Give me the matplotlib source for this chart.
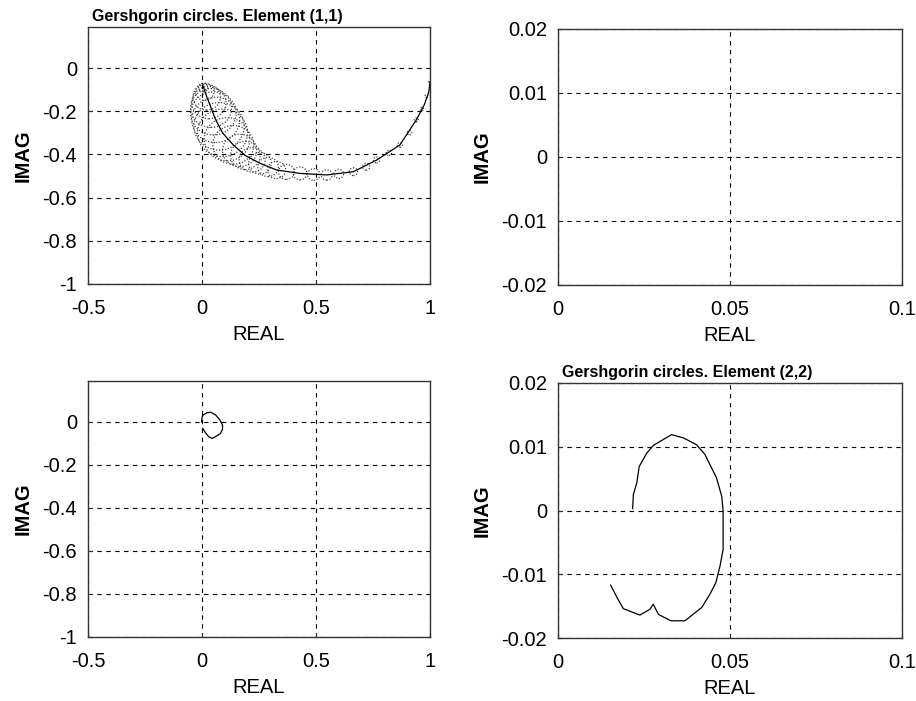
import numpy as np
import matplotlib.pyplot as plt
from matplotlib.patches import Circle

plt.rcParams['font.family'] = ['Liberation Sans', 'DejaVu Sans']

# element (1,1): diagonal term (solid line)
d11_re = [0.003, 0.02, 0.04, 0.057, 0.09, 0.137, 0.19, 0.254, 0.327, 0.43,
          0.547, 0.664, 0.766, 0.868, 0.94, 0.975, 0.995, 1.0]
d11_im = [-0.079, -0.13, -0.185, -0.233, -0.3, -0.356, -0.405, -0.441, -0.472, -0.488,
          -0.495, -0.48, -0.426, -0.356, -0.24, -0.17, -0.11, -0.063]

# Gershgorin circles for element (1,1): centres and radii
c11_re = [0.005, 0.012, 0.02, 0.03, 0.04, 0.05, 0.06, 0.075, 0.09, 0.11, 0.137,
          0.165, 0.19, 0.22, 0.254, 0.29, 0.327, 0.37, 0.43, 0.49, 0.547, 0.6,
          0.664, 0.72, 0.766, 0.82, 0.868, 0.91, 0.94, 0.965, 0.985, 1.0]
c11_im = [-0.09, -0.11, -0.135, -0.16, -0.185, -0.21, -0.24, -0.27, -0.3, -0.33, -0.356,
          -0.382, -0.405, -0.425, -0.441, -0.458, -0.472, -0.481, -0.488, -0.493, -0.495, -0.49,
          -0.48, -0.457, -0.426, -0.393, -0.356, -0.3, -0.24, -0.19, -0.13, -0.063]
r11 = [0.02, 0.04, 0.06, 0.075, 0.09, 0.1, 0.105, 0.11, 0.11, 0.1, 0.09,
       0.075, 0.065, 0.057, 0.05, 0.045, 0.04, 0.035, 0.03, 0.027, 0.024, 0.021,
       0.018, 0.016, 0.014, 0.012, 0.011, 0.01, 0.009, 0.008, 0.007, 0.006]

# element (2,1)
e21_re = [-0.002, 0.0, 0.003, 0.02, 0.038, 0.06, 0.078, 0.09, 0.09, 0.08, 0.06,
          0.045, 0.03, 0.015, 0.003]
e21_im = [0.0, 0.02, 0.03, 0.042, 0.045, 0.032, 0.01, -0.015, -0.035, -0.055, -0.068,
          -0.077, -0.07, -0.05, -0.03]

# element (2,2)
e22_re = [0.0217, 0.0219, 0.0229, 0.0236, 0.0258, 0.0277, 0.033, 0.0364, 0.0393, 0.0403,
          0.0427, 0.0461, 0.0476, 0.048, 0.048, 0.0471, 0.0459, 0.0442, 0.0418, 0.0369,
          0.0328, 0.0292, 0.0277, 0.0267, 0.0238, 0.019, 0.0171, 0.0153]
e22_im = [0.0003, 0.0025, 0.0043, 0.0069, 0.009, 0.0102, 0.0119, 0.0114, 0.0106, 0.0103,
          0.0088, 0.0051, 0.0022, -0.0001, -0.0061, -0.0087, -0.0113, -0.0131, -0.0152, -0.0173,
          -0.0173, -0.0163, -0.0147, -0.0155, -0.0164, -0.0154, -0.0136, -0.0117]

big_xt = [-0.5, 0, 0.5, 1]
big_xl = ['-0.5', '0', '0.5', '1']
big_yt = [-1, -0.8, -0.6, -0.4, -0.2, 0]
big_yl = ['-1', '-0.8', '-0.6', '-0.4', '-0.2', '0']
sm_xt = [0, 0.05, 0.1]
sm_xl = ['0', '0.05', '0.1']
sm_yt = [-0.02, -0.01, 0, 0.01, 0.02]
sm_yl = ['-0.02', '-0.01', '0', '0.01', '0.02']

fig = plt.figure(figsize=(9.16, 7.01), dpi=100)
W, H = 916, 701
FS = 14.5


def make_ax(x0, y0, x1, y1):
    return fig.add_axes([x0 / W, 1 - y1 / H, (x1 - x0) / W, (y1 - y0) / H])


def style(ax, xlim, ylim, xt, xl, yt, yl):
    ax.set_xlim(xlim)
    ax.set_ylim(ylim)
    ax.set_xticks(xt)
    ax.set_xticklabels(xl)
    ax.set_yticks(yt)
    ax.set_yticklabels(yl)
    ax.tick_params(direction='in', length=3, labelsize=FS, color='#333333')
    ax.tick_params(axis='x', pad=11)
    ax.tick_params(axis='y', pad=8)
    ax.grid(True, color='black', linestyle=(0, (4, 4)), linewidth=0.8)
    for s in ax.spines.values():
        s.set_linewidth(1.0)
        s.set_color('#333333')
    ax.set_xlabel('REAL', fontsize=FS, labelpad=5)
    ax.set_ylabel('IMAG', fontsize=FS, fontweight='bold', labelpad=7)


ax1 = make_ax(88, 27, 430, 284)
ax2 = make_ax(558, 29, 902, 285)
ax3 = make_ax(88, 381, 430, 637)
ax4 = make_ax(558, 383, 902, 638)

style(ax1, (-0.5, 1), (-1, 0.19), big_xt, big_xl, big_yt, big_yl)
style(ax2, (0, 0.1), (-0.02, 0.02), sm_xt, sm_xl, sm_yt, sm_yl)
style(ax3, (-0.5, 1), (-1, 0.19), big_xt, big_xl, big_yt, big_yl)
style(ax4, (0, 0.1), (-0.02, 0.02), sm_xt, sm_xl, sm_yt, sm_yl)

for cx, cy, r in zip(c11_re, c11_im, r11):
    ax1.add_patch(Circle((cx, cy), r, fill=False, linestyle=(0, (1, 1.5)),
                         edgecolor='#333333', linewidth=0.85))
ax1.plot(d11_re, d11_im, color='black', linewidth=0.9)

ax3.plot(e21_re, e21_im, color='black', linewidth=0.9)
ax4.plot(e22_re, e22_im, color='black', linewidth=0.9)

ax1.text(0.012, 1.012, 'Gershgorin circles. Element (1,1)', transform=ax1.transAxes,
         fontsize=11.5, fontweight='bold', ha='left', va='bottom')
ax4.text(0.012, 1.012, 'Gershgorin circles. Element (2,2)', transform=ax4.transAxes,
         fontsize=11.5, fontweight='bold', ha='left', va='bottom')

fig.savefig('out.png', dpi=100)
